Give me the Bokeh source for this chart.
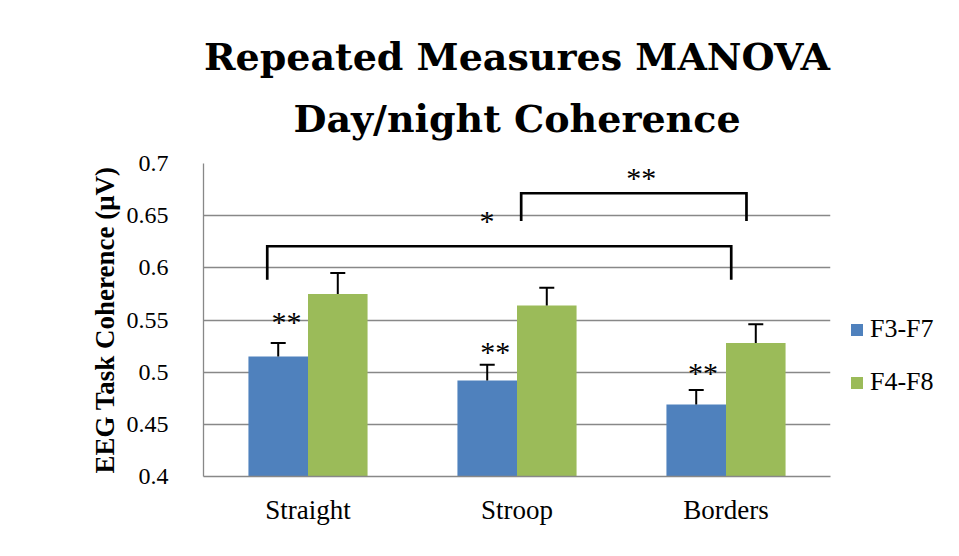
from bokeh.plotting import figure
from bokeh.models import (ColumnDataSource, FactorRange, Range1d, FixedTicker,
                          NumeralTickFormatter, Whisker, TeeHead, Legend, LegendItem, Title)
from bokeh.transform import dodge
from bokeh.core.properties import value
from bokeh.embed import file_html
from bokeh.resources import INLINE

# ---- data ----
categories = ["Straight", "Stroop", "Borders"]
f3_f7 = [0.515, 0.492, 0.469]
f4_f8 = [0.575, 0.564, 0.528]
f3_f7_err = [0.013, 0.015, 0.014]
f4_f8_err = [0.020, 0.017, 0.018]
y_ticks = [0.4, 0.45, 0.5, 0.55, 0.6, 0.65, 0.7]
series_names = ["F3-F7", "F4-F8"]
title_lines = ["Repeated Measures MANOVA", "Day/night Coherence"]
y_label = "EEG Task Coherence (\u03bcV)"

# significance annotations (synthetic x: category index scale, y: data)
bracket_x = [[0.305, 0.305, 2.525, 2.525], [1.52, 1.52, 2.598, 2.598]]
bracket_y = [[0.5885, 0.6207, 0.6207, 0.5885], [0.645, 0.6715, 0.6715, 0.645]]
star_x = [0.397, 1.396, 2.39, 1.357, 2.095]
star_y = [0.55, 0.521, 0.5006, 0.6463, 0.6875]
star_text = ["**", "**", "**", "*", "**"]

BLUE = "#4F81BD"
GREEN = "#9BBB59"
GRID = "#888888"
SERIF = "Liberation Serif"

src = ColumnDataSource(dict(
    cat=categories,
    a=f3_f7, b=f4_f8,
    a_up=[v + e for v, e in zip(f3_f7, f3_f7_err)],
    b_up=[v + e for v, e in zip(f4_f8, f4_f8_err)],
))

L, T, FW, FH, R, B = 203, 163, 627, 313, 120, 72

p = figure(frame_width=FW, frame_height=FH,
           x_range=FactorRange(factors=categories, range_padding=0),
           y_range=Range1d(0.4, 0.7), output_backend="svg", toolbar_location=None,
           title=None,
           min_border_left=L, min_border_top=T, min_border_right=R,
           min_border_bottom=B)
p.outline_line_color = None
p.background_fill_color = "white"
p.border_fill_color = "white"

bw = 0.285
off = bw / 2
ra = p.vbar(x=dodge("cat", -off, range=p.x_range), top="a", bottom=0.4, width=bw,
            source=src, fill_color=BLUE, line_color=None)
rb = p.vbar(x=dodge("cat", off, range=p.x_range), top="b", bottom=0.4, width=bw,
            source=src, fill_color=GREEN, line_color=None)

for fld, up, o in (("a", "a_up", -off), ("b", "b_up", off)):
    w = Whisker(base=dodge("cat", o, range=p.x_range), upper=up, lower=fld, source=src,
                line_color="black", line_width=2,
                upper_head=TeeHead(size=15, line_width=2, line_color="black"),
                lower_head=None, level="overlay")
    p.add_layout(w)

# brackets
p.multi_line(xs=bracket_x, ys=bracket_y, line_color="black", line_width=2.7, line_join="miter")

# asterisks
p.text(x=star_x, y=star_y, text=star_text, text_font=value(SERIF), text_font_size="30px",
       text_align="center", text_baseline="alphabetic", y_offset=1, text_color="black")

# axes
p.yaxis.ticker = FixedTicker(ticks=y_ticks)
p.yaxis.formatter = NumeralTickFormatter(format="0.0[0]")
p.yaxis.major_tick_line_color = None
p.yaxis.minor_tick_line_color = None
p.yaxis.major_tick_out = 0
p.yaxis.major_label_standoff = 35
p.yaxis.major_label_text_font = SERIF
p.yaxis.major_label_text_font_size = "24px"
p.yaxis.major_label_text_color = "black"
p.yaxis.axis_line_color = GRID
p.yaxis.axis_line_width = 1.3
p.yaxis.axis_label = y_label
p.yaxis.axis_label_text_font = SERIF
p.yaxis.axis_label_text_font_style = "bold"
p.yaxis.axis_label_text_font_size = "27px"
p.yaxis.axis_label_text_color = "black"
p.yaxis.axis_label_standoff = 4

p.xaxis.major_tick_line_color = None
p.xaxis.major_tick_out = 0
p.xaxis.major_label_standoff = 18
p.xaxis.major_label_text_font = SERIF
p.xaxis.major_label_text_font_size = "27px"
p.xaxis.major_label_text_color = "black"
p.xaxis.axis_line_color = GRID
p.xaxis.axis_line_width = 1.3

p.xgrid.grid_line_color = None
p.ygrid.grid_line_color = GRID
p.ygrid.grid_line_width = 1.3

# legend (right panel)
legend = Legend(items=[LegendItem(label=series_names[0], renderers=[ra]),
                       LegendItem(label=series_names[1], renderers=[rb])],
                location=(19, 79), orientation="vertical",
                glyph_width=15, glyph_height=15, label_height=30, spacing=23,
                label_standoff=6, padding=0, margin=0,
                label_text_font=SERIF, label_text_font_size="26px",
                label_text_color="black",
                border_line_color=None, background_fill_alpha=0)
p.add_layout(legend, "right")

# title: two centred lines; the first added sits nearest the plot
p.add_layout(Title(text=title_lines[1], align="center", text_font="DejaVu Serif",
                   text_font_style="bold", text_font_size="38px",
                   text_color="black", standoff=45), "above")
p.add_layout(Title(text=title_lines[0], align="center", text_font="DejaVu Serif",
                   text_font_style="bold", text_font_size="38px",
                   text_color="black", standoff=-15), "above")

open("out.html", "w").write(file_html(p, INLINE))
